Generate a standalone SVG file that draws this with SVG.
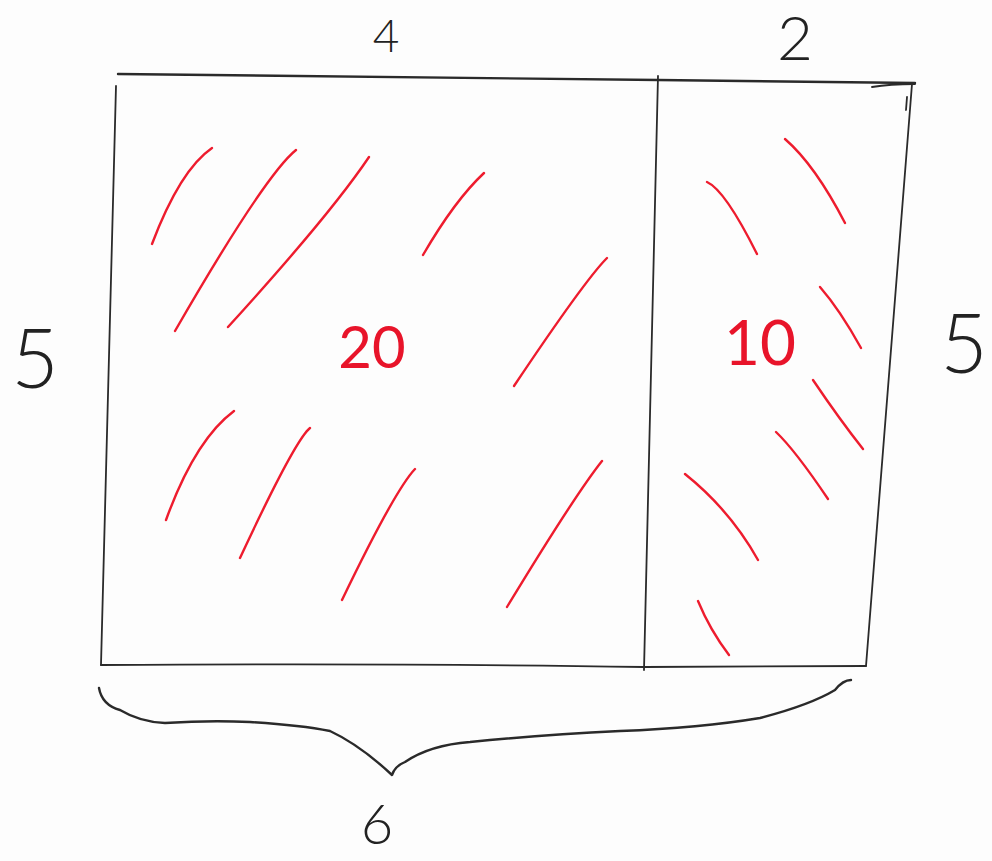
<svg xmlns="http://www.w3.org/2000/svg" width="992" height="861" viewBox="0 0 992 861">
<style>
.ink{fill:none;stroke:#2a2a2a;stroke-width:2.4;stroke-linecap:round;stroke-linejoin:round}
.thin{fill:none;stroke:#2a2a2a;stroke-width:1.8;stroke-linecap:round}
.hatch{fill:none;stroke:#ee1c2e;stroke-width:2.4;stroke-linecap:round}
.lbl{font-family:Lato,"DejaVu Sans",sans-serif;font-weight:300;fill:#222;text-anchor:middle}
.area{font-family:Lato,"DejaVu Sans",sans-serif;font-weight:400;fill:#e8142a;text-anchor:middle}
</style>
<rect width="992" height="861" fill="#fdfdfd"/>
<g id="rectangle">
<path class="ink" d="M118,74 L658,80 L915,83"/>
<path class="thin" d="M872,87 Q890,84 915,84"/>
<path class="thin" d="M116,86 L101,665"/>
<path class="thin" d="M912,84 L866,666"/>
<path class="thin" d="M907,97 L906,110"/>
<path class="thin" d="M101,665 Q400,663 644,667 L866,666"/>
</g>
<g id="divider">
<path class="thin" d="M658,76 L644,670"/>
</g>
<g id="hatch-left">
<path class="hatch" d="M212,148 Q180,170 152,244"/>
<path class="hatch" d="M296,150 Q265,175 175,331"/>
<path class="hatch" d="M369,157 Q330,215 228,327"/>
<path class="hatch" d="M484,173 Q455,200 423,255"/>
<path class="hatch" d="M607,258 Q585,280 514,386"/>
<path class="hatch" d="M234,411 Q195,440 166,520"/>
<path class="hatch" d="M310,428 Q295,440 240,558"/>
<path class="hatch" d="M415,469 Q395,490 342,600"/>
<path class="hatch" d="M602,461 Q575,495 507,607"/>
</g>
<g id="hatch-right">
<path class="hatch" d="M785,139 Q815,165 845,223"/>
<path class="hatch" d="M707,182 Q725,190 757,254"/>
<path class="hatch" d="M820,287 Q840,310 861,348"/>
<path class="hatch" d="M813,380 Q840,420 863,449"/>
<path class="hatch" d="M776,432 Q795,450 828,499"/>
<path class="hatch" d="M685,474 Q730,510 758,560"/>
<path class="hatch" d="M698,601 Q710,630 729,655"/>
</g>
<g id="brace">
<path class="ink" d="M99,688 Q102,705 120,710 Q140,722 165,723 Q210,720 250,722 Q300,725 330,731 Q360,745 392,775 Q395,766 405,762 Q430,745 470,742 Q540,735 620,731 Q700,728 760,718 Q810,705 835,690 Q843,680 851,680"/>
</g>
<g id="labels">
<text class="lbl" x="386" y="52" font-size="46">4</text>
<text class="lbl" x="795" y="60" font-size="62">2</text>
<text class="lbl" x="35" y="388" font-size="82">5</text>
<text class="lbl" x="964" y="373" font-size="82">5</text>
<text class="lbl" x="377" y="844" font-size="56">6</text>
<text class="area" x="372" y="368" font-size="58">20</text>
<text class="area" x="760" y="365" font-size="62">10</text>
</g>
</svg>
